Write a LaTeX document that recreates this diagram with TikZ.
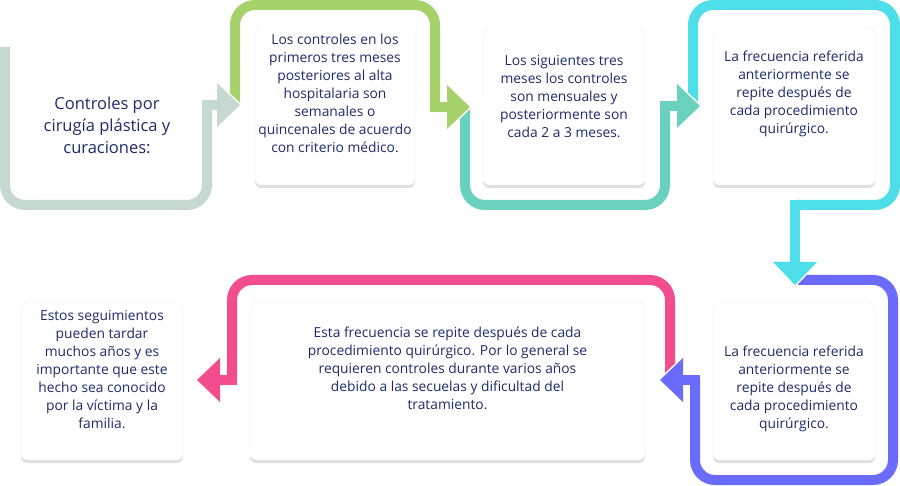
\documentclass[tikz,border=0pt]{standalone}
\usepackage{fontspec}
\setmainfont{Open Sans}
\usetikzlibrary{shadows}
\definecolor{gris}{HTML}{C6D9D1}
\definecolor{verde}{HTML}{A6D16B}
\definecolor{turquesa}{HTML}{6AD1BE}
\definecolor{celeste}{HTML}{4DDEE9}
\definecolor{violeta}{HTML}{6B6BFB}
\definecolor{rosa}{HTML}{F24E8F}
\definecolor{azul}{HTML}{1F2A6B}
\begin{document}
\begin{tikzpicture}[x=1pt,y=-1pt]
\tikzstyle{caja}=[fill=white,draw=black!7,rounded corners=6pt,drop shadow={opacity=0.25,shadow xshift=0pt,shadow yshift=-3pt}]
\tikzstyle{texto}=[align=center,text=azul,font=\fontsize{13.8}{18}\selectfont]
\tikzstyle{banda}=[line width=10pt,rounded corners=20pt]
\tikzstyle{corte}=[white,line width=3pt]
\useasboundingbox (0,0) rectangle (900,486);

% cajas
\path (335,106.5) node[caja,minimum width=160pt,minimum height=157pt](b2){};
\path (564,106.5) node[caja,minimum width=162pt,minimum height=157pt](b3){};
\path (794,106.5) node[caja,minimum width=162pt,minimum height=157pt](b4){};
\path (794,381.5) node[caja,minimum width=162pt,minimum height=157pt](b5){};
\path (447.5,381.5) node[caja,minimum width=395pt,minimum height=157pt](b6){};
\path (102,381.5) node[caja,minimum width=162pt,minimum height=157pt](b7){};

% bandas
\draw[banda,gris] (5,47) -- (5,205) -- (207,205) -- (207,105);
\draw[line width=10pt,gris] (202,105) -- (218,105);
\draw[banda,verde] (235,105) -- (235,5) -- (435,5) -- (435,107);
\draw[line width=10pt,verde] (430,107) -- (448,107);
\draw[banda,turquesa] (465,108) -- (465,205) -- (665,205) -- (665,106);
\draw[line width=10pt,turquesa] (660,106) -- (678,106);
\draw[banda,celeste] (693,108) -- (693,5) -- (895,5) -- (895,205) -- (795,205);
\draw[line width=10pt,celeste] (795,200) -- (795,263);
\draw[banda,violeta] (797,280) -- (893,280) -- (893,480) -- (695,480) -- (695,380);
\draw[line width=10pt,violeta] (700,380) -- (682,380);
\draw[banda,rosa] (670,380) -- (670,280) -- (232,280) -- (232,380);
\draw[line width=10pt,rosa] (237,380) -- (219,380);

% puntas
\draw[corte] (217,83) -- (240,105) -- (217,127);
\fill[gris] (217,83) -- (240,105) -- (217,127) -- cycle;
\draw[corte] (447,85) -- (470,107) -- (447,129);
\fill[verde] (447,85) -- (470,107) -- (447,129) -- cycle;
\draw[corte] (677,84) -- (700,106) -- (677,128);
\fill[turquesa] (677,84) -- (700,106) -- (677,128) -- cycle;
\draw[corte] (773,262) -- (795,285) -- (817,262);
\fill[celeste] (773,262) -- (795,285) -- (817,262) -- cycle;
\draw[corte] (683,358) -- (660,380) -- (683,402);
\fill[violeta] (683,358) -- (660,380) -- (683,402) -- cycle;
\draw[corte] (220,358) -- (197,380) -- (220,402);
\fill[rosa] (220,358) -- (197,380) -- (220,402) -- cycle;

% textos
\path (107,125) node[texto,font=\fontsize{16.5}{22}\selectfont](t1){Controles por\\cirugía plástica y\\curaciones:};
\path (335,93) node[texto](t2){Los controles en los\\primeros tres meses\\posteriores al alta\\hospitalaria son\\semanales o\\quincenales de acuerdo\\con criterio médico.};
\path (564,96.5) node[texto](t3){Los siguientes tres\\meses los controles\\son mensuales y\\posteriormente son\\cada 2 a 3 meses.};
\path (794,93.5) node[texto](t4){La frecuencia referida\\anteriormente se\\repite después de\\cada procedimiento\\quirúrgico.};
\path (794,388.5) node[texto](t5){La frecuencia referida\\anteriormente se\\repite después de\\cada procedimiento\\quirúrgico.};
\path (447.5,368.5) node[texto](t6){Esta frecuencia se repite después de cada\\procedimiento quirúrgico. Por lo general se\\requieren controles durante varios años\\debido a las secuelas y dificultad del\\tratamiento.};
\path (102,370) node[texto](t7){Estos seguimientos\\pueden tardar\\muchos años y es\\importante que este\\hecho sea conocido\\por la víctima y la\\familia.};
\end{tikzpicture}
\end{document}
